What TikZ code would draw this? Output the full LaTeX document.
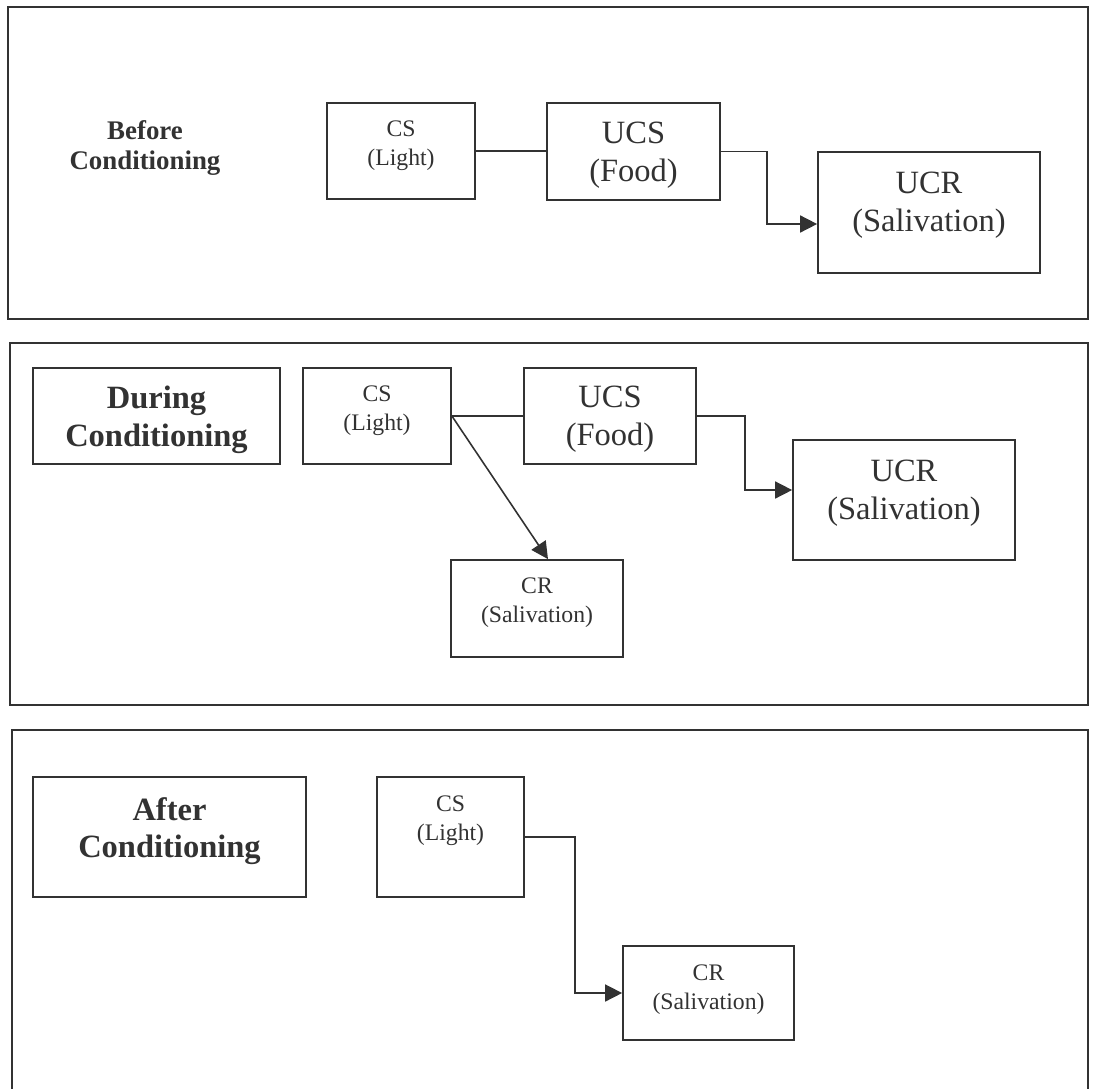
\documentclass[tikz,border=0pt]{standalone}
\usepackage{fontspec}
\setmainfont{Liberation Serif}
\usetikzlibrary{arrows.meta, positioning}
\definecolor{ink}{RGB}{50,50,50}

\begin{document}
\begin{tikzpicture}[
x=0.02cm, y=-0.02cm,
panel/.style={draw=ink, line width=1pt},
block/.style={rectangle, draw=ink, line width=1pt, text=ink, align=center, inner sep=0pt},
block-small/.style={block, font=\fontsize{13.5}{16.5}\selectfont},
block-large/.style={block, font=\fontsize{18.5}{21.5}\selectfont},
block-title/.style={block, font=\bfseries\fontsize{18.5}{21.5}\selectfont},
title/.style={text=ink, align=center, font=\bfseries\fontsize{15.3}{17}\selectfont},
lift/.style={text depth=#1},
line/.style={draw=ink, line width=0.9pt},
arrow/.style={line, -{Triangle[length=0.34cm, width=0.34cm]}}
]
\useasboundingbox (0,0) rectangle (1094,1088);

% before conditioning
\draw [panel] (8,7) rectangle (1088,319);
\node [title] (before) at (145,148) {Before\\Conditioning};
\node [block-small, lift=8.6pt, minimum width=2.96cm, minimum height=1.92cm] (cs-1) at (401,151) {CS\\(Light)};
\node [block-large, lift=0pt, minimum width=3.46cm, minimum height=1.94cm] (ucs-1) at (633.5,151.5) {UCS\\(Food)};
\node [block-large, lift=12pt, minimum width=4.44cm, minimum height=2.42cm] (ucr-1) at (929,212.5) {UCR\\(Salivation)};
\coordinate (bend-1) at (767,224);
\draw [line] (cs-1.east) -- (cs-1.east -| ucs-1.west);
\draw [arrow] (ucs-1.east) -| (bend-1) -- (bend-1 -| ucr-1.west);

% during conditioning
\draw [panel] (10,343) rectangle (1088,705);
\node [block-title, lift=0pt, minimum width=4.94cm, minimum height=1.92cm] (during) at (156.5,416) {During\\Conditioning};
\node [block-small, lift=8.6pt, minimum width=2.96cm, minimum height=1.92cm] (cs-2) at (377,416) {CS\\(Light)};
\node [block-large, lift=0pt, minimum width=3.44cm, minimum height=1.92cm] (ucs-2) at (610,416) {UCS\\(Food)};
\node [block-large, lift=12pt, minimum width=4.44cm, minimum height=2.40cm] (ucr-2) at (904,500) {UCR\\(Salivation)};
\node [block-small, lift=9.8pt, minimum width=3.44cm, minimum height=1.94cm] (cr-2) at (537,608.5) {CR\\(Salivation)};
\coordinate (bend-2) at (745,490);
\draw [line] (cs-2.east) -- (ucs-2.west);
\draw [arrow] (ucs-2.east) -| (bend-2) -- (bend-2 -| ucr-2.west);
\draw [arrow] (cs-2.east) -- ([xshift=0.22cm]cr-2.north);

% after conditioning
\draw [panel] (12,1090) -- (12,730) -- (1088,730) -- (1088,1090);
\node [block-title, lift=10.8pt, minimum width=5.46cm, minimum height=2.40cm] (after) at (169.5,837) {After\\Conditioning};
\node [block-small, lift=21.2pt, minimum width=2.94cm, minimum height=2.40cm] (cs-3) at (450.5,837) {CS\\(Light)};
\node [block-small, lift=6.4pt, minimum width=3.42cm, minimum height=1.88cm] (cr-3) at (708.5,993) {CR\\(Salivation)};
\coordinate (bend-3) at (575,837);
\draw [arrow] (cs-3.east) -- (bend-3) |- (cr-3.west);
\end{tikzpicture}
\end{document}
